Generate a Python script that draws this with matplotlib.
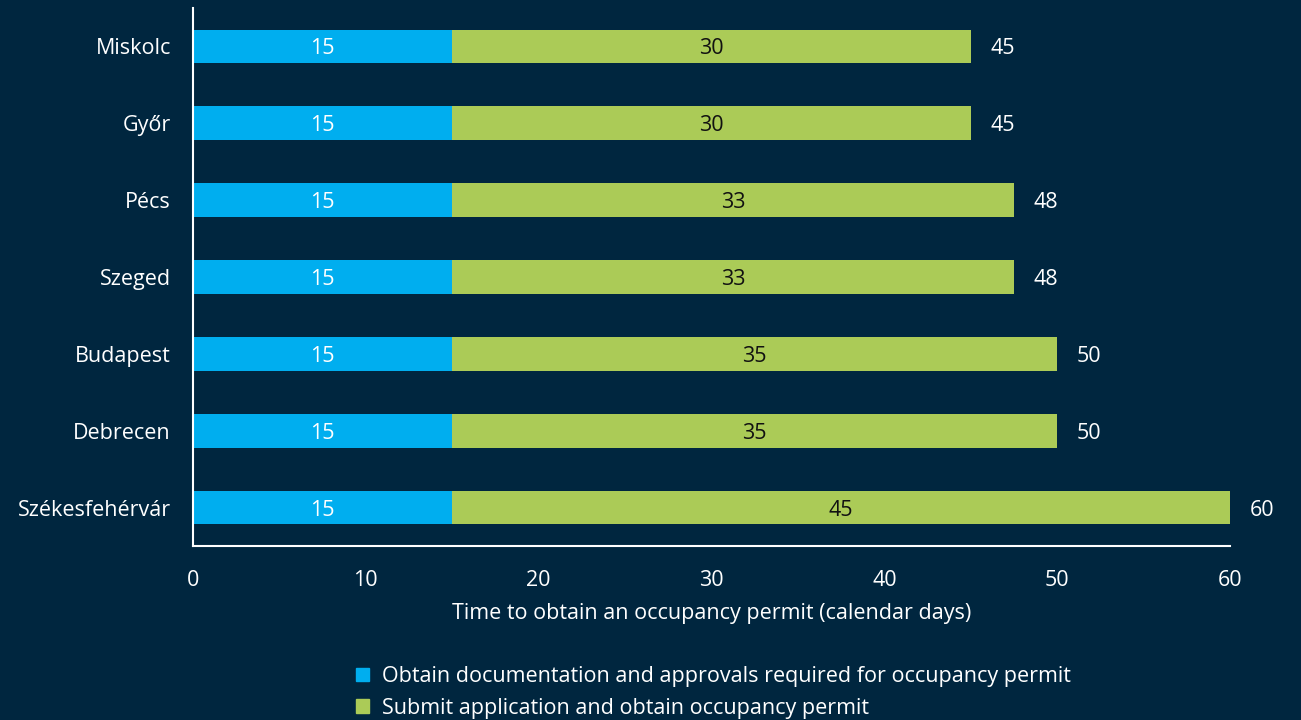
import matplotlib
matplotlib.use("Agg")
import matplotlib.pyplot as plt
from matplotlib.patches import Patch

cities = ["Miskolc", "Győr", "Pécs", "Szeged", "Budapest", "Debrecen", "Székesfehérvár"]
docs = [15, 15, 15, 15, 15, 15, 15]
submit = [30, 30, 32.5, 32.5, 35, 35, 45]
series_names = ["Obtain documentation and approvals required for occupancy permit",
                "Submit application and obtain occupancy permit"]
xticks = [0, 10, 20, 30, 40, 50, 60]

BG = "#00263F"
BLUE = "#00AEEF"
GREEN = "#ABCB57"
FS = 15.5

plt.rcParams['font.family'] = ['Open Sans', 'DejaVu Sans']

fig = plt.figure(figsize=(13.01, 7.2), dpi=100, facecolor=BG)
ax = fig.add_axes([193/1301, 1-546/720, (1230-193)/1301, (546-8)/720], facecolor=BG)

y = list(range(len(cities)))
h = 0.44
ax.barh(y, docs, height=h, color=BLUE)
ax.barh(y, submit, left=docs, height=h, color=GREEN)

def fmt(v):
    return str(int(v + 0.5))

for i in y:
    ax.text(docs[i] / 2, i, fmt(docs[i]), ha="center", va="center_baseline", color="white", fontsize=FS)
    ax.text(docs[i] + submit[i] / 2, i, fmt(submit[i]), ha="center", va="center_baseline", color="#111111", fontsize=FS)
    tot = docs[i] + submit[i]
    ax.annotate(fmt(tot), (tot, i), xytext=(14, 0), textcoords="offset points",
                ha="left", va="center_baseline", color="white", fontsize=FS, annotation_clip=False)

ax.set_xlim(0, 60)
ax.set_ylim(len(cities) - 0.5, -0.5)
ax.set_yticks(y)
ax.set_yticklabels(cities)
ax.set_xticks(xticks)
ax.tick_params(axis="both", length=0, colors="white", labelsize=FS)
ax.tick_params(axis="x", pad=17)
ax.tick_params(axis="y", pad=16)
for lab in ax.get_yticklabels():
    lab.set_verticalalignment("center_baseline")
for s in ["top", "right"]:
    ax.spines[s].set_visible(False)
for s in ["left", "bottom"]:
    ax.spines[s].set_color("white")
    ax.spines[s].set_linewidth(1.5)
ax.set_xlabel("Time to obtain an occupancy permit (calendar days)", color="white", fontsize=FS, labelpad=9)

handles = [Patch(color=BLUE), Patch(color=GREEN)]
fig.legend(handles, series_names, loc="upper left", bbox_to_anchor=(356/1301, 1-666/720),
           frameon=False, fontsize=FS, labelcolor="white", handlelength=0.6, handleheight=0.6,
           handletextpad=0.6, labelspacing=0.5, borderpad=0, borderaxespad=0)

fig.savefig("out.png", dpi=100, facecolor=BG)
